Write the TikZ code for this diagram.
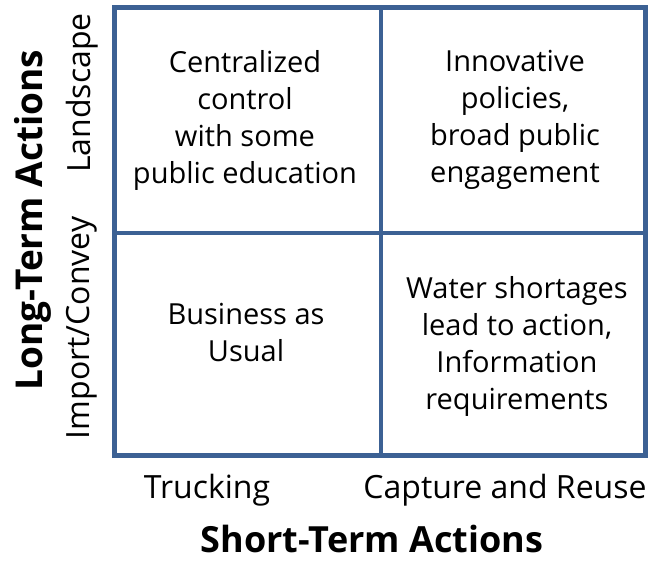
\documentclass[tikz,border=0pt]{standalone}
\usepackage{fontspec}
\setmainfont{Open Sans}
\definecolor{gridblue}{HTML}{3C6194}
\begin{document}
\begin{tikzpicture}[x=1pt,y=-1pt,
  cell/.style={align=center,font=\fontsize{29}{37}\selectfont,inner sep=0pt},
  axislab/.style={font=\fontsize{32}{37}\selectfont,inner sep=0pt},
  axistitle/.style={font=\fontsize{37}{40}\selectfont\bfseries,inner sep=0pt},
  gridline/.style={draw=gridblue,line width=4.5pt}]
\useasboundingbox (0,0) rectangle (651,564);
\coordinate (tl) at (114.5,7.5);
\coordinate (br) at (645.5,455.5);
\coordinate (mt) at (381,7.5);
\coordinate (mb) at (381,455.5);
\coordinate (ml) at (114.5,233);
\coordinate (mr) at (645.5,233);
\draw[gridline] (tl) rectangle (br);
\draw[gridline] (mt) -- (mb);
\draw[gridline] (ml) -- (mr);
\node[cell] (c11) at (245,120) {Centralized\\control\\with some\\public education};
\node[cell] (c12) at (515,120) {Innovative\\policies,\\broad public\\engagement};
\node[cell] (c21) at (246,332) {Business as\\Usual};
\node[cell] (c22) at (517,346) {Water shortages\\lead to action,\\Information\\requirements};
\node[axislab] (xa) at (207,490) {Trucking};
\node[axislab] (xb) at (505,490) {Capture and Reuse};
\node[axistitle,font=\fontsize{36}{40}\selectfont\bfseries] (xt) at (372,539) {Short-Term Actions};
\node[axislab,rotate=90] (ya) at (82,93) {Landscape};
\node[axislab,rotate=90] (yb) at (82,328) {Import/Convey};
\node[axistitle,rotate=90] (yt) at (33,220) {Long-Term Actions};
\end{tikzpicture}
\end{document}
